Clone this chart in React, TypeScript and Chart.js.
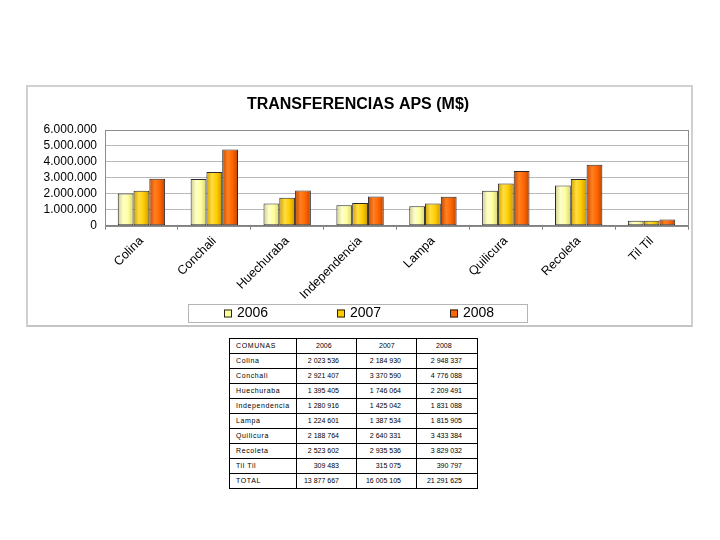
import React, { useEffect, useRef } from "react";
import { Chart, registerables } from "chart.js";

Chart.register(...registerables);

// ---- data ----
const categories = ["Colina", "Conchali", "Huechuraba", "Independencia", "Lampa", "Quilicura", "Recoleta", "Til Til"];
const seriesLabels = ["2006", "2007", "2008"];
const values2006 = [2023536, 2921407, 1395405, 1280916, 1224601, 2188764, 2523602, 309483];
const values2007 = [2184930, 3370590, 1746064, 1425042, 1387534, 2640331, 2935536, 315075];
const values2008 = [2948337, 4776088, 2209491, 1831088, 1815905, 3433384, 3829032, 390797];
const totals = [13877667, 16005105, 21291625];
const tableHeader = "COMUNAS";
const totalLabel = "TOTAL";
const chartTitle = "TRANSFERENCIAS APS (M$)";
const yMin = 0;
const yMax = 6000000;
const yStep = 1000000;

// ---- styles ----
const FONT = "'Liberation Sans', Arial, Helvetica, sans-serif";
const solidColors = ["#ffff99", "#ffcc00", "#ff6600"];
const gradStops = [
  ["#cfcf8a", "#ffffcc", "#ffff9c", "#d4d47a"],
  ["#d49f00", "#ffde40", "#ffcc00", "#c99700"],
  ["#c84800", "#ff8022", "#ff6600", "#c04400"],
];

const fmtDots = (n: number) => String(n).replace(/\B(?=(\d{3})+(?!\d))/g, ".");
const fmtSpaces = (n: number) => String(n).replace(/\B(?=(\d{3})+(?!\d))/g, " ");

const barGradientPlugin = {
  id: "barGradient",
  beforeDatasetsDraw(chart: any) {
    const ctx = chart.ctx;
    const a = chart.chartArea;
    ctx.save();
    ctx.strokeStyle = "#8c8c8c";
    ctx.lineWidth = 1;
    ctx.strokeRect(Math.round(a.left) + 0.5, Math.round(a.top) + 0.5, Math.round(a.right - a.left), Math.round(a.bottom - a.top));
    ctx.restore();
    chart.data.datasets.forEach((_ds: any, i: number) => {
      const meta = chart.getDatasetMeta(i);
      const s = gradStops[i];
      meta.data.forEach((el: any) => {
        const w = el.width;
        const left = el.x - w / 2;
        const g = ctx.createLinearGradient(left, 0, left + w, 0);
        g.addColorStop(0, s[0]);
        g.addColorStop(0.35, s[1]);
        g.addColorStop(0.65, s[2]);
        g.addColorStop(1, s[3]);
        el.options = { ...el.options, backgroundColor: g };
      });
    });
  },
};

const boxLegendPlugin = {
  id: "boxLegend",
  afterDraw(chart: any) {
    const ctx = chart.ctx;
    const boxW = 339;
    const boxH = 18;
    const left = Math.round((chart.width - boxW) / 2) - 2;
    const top = 217;
    ctx.save();
    ctx.strokeStyle = "#b4b4b4";
    ctx.lineWidth = 1;
    ctx.strokeRect(left + 0.5, top + 0.5, boxW, boxH);
    const cy = top + boxH / 2 + 0.5;
    ctx.font = `14px ${FONT}`;
    ctx.textBaseline = "middle";
    ctx.textAlign = "left";
    chart.data.datasets.forEach((ds: any, i: number) => {
      const sx = left + 36 + i * 113;
      ctx.fillStyle = solidColors[i];
      ctx.fillRect(sx, cy - 4, 8, 8);
      ctx.strokeStyle = "#222";
      ctx.strokeRect(sx + 0.5, cy - 3.5, 7, 7);
      ctx.fillStyle = "#000";
      ctx.fillText(ds.label, sx + 13, cy);
    });
    ctx.restore();
  },
};

function BarChart() {
  const ref = useRef<HTMLCanvasElement | null>(null);
  useEffect(() => {
    if (!ref.current) return;
    const series = [values2006, values2007, values2008];
    const chart = new Chart(ref.current, {
      type: "bar",
      data: {
        labels: categories,
        datasets: series.map((vals, i) => ({
          label: seriesLabels[i],
          data: vals,
          backgroundColor: solidColors[i],
          borderColor: "#2a2a2a",
          borderWidth: 1,
          borderSkipped: false,
          categoryPercentage: 0.65,
          barPercentage: 1.0,
        })),
      },
      options: {
        responsive: false,
        animation: false,
        events: [],
        layout: { padding: { left: 0, right: 3, top: 0, bottom: 0 } },
        plugins: {
          legend: { display: false },
          tooltip: { enabled: false },
          title: {
            display: true,
            text: chartTitle,
            color: "#000",
            font: { family: FONT, size: 16, weight: "bold" },
            padding: { top: 8, bottom: 15.8 },
          },
        },
        scales: {
          x: {
            grid: { display: true, drawOnChartArea: false, drawTicks: true, tickLength: 4, color: "#808080" },
            border: { display: true, color: "#808080" },
            ticks: {
              color: "#000",
              font: { family: FONT, size: 12.5 },
              minRotation: 45,
              maxRotation: 45,
              autoSkip: false,
              padding: 4,
            },
            afterFit: (scale: any) => {
              scale.height = 99.3;
            },
          },
          y: {
            min: yMin,
            max: yMax,
            grid: { color: "#b8b8b8", drawTicks: false, tickLength: 0 },
            border: { display: true, color: "#808080" },
            ticks: {
              stepSize: yStep,
              autoSkip: false,
              color: "#000",
              font: { family: FONT, size: 12 },
              padding: 8,
              callback: (v: any) => fmtDots(Number(v)),
            },
            afterFit: (scale: any) => {
              scale.width = 77;
            },
          },
        },
      },
      plugins: [barGradientPlugin, boxLegendPlugin],
    });
    return () => chart.destroy();
  }, []);
  return <canvas ref={ref} width={663} height={238} style={{ display: "block", width: 663, height: 238 }} />;
}

const cell: React.CSSProperties = {
  border: "1px solid #000",
  height: 14,
  padding: 0,
  fontSize: 7,
  lineHeight: "14px",
  whiteSpace: "nowrap",
  overflow: "hidden",
  color: "#000",
};

function DataTable() {
  const rows = categories.map((c, i) => [c, values2006[i], values2007[i], values2008[i]] as [string, number, number, number]);
  rows.push([totalLabel, totals[0], totals[1], totals[2]]);
  const numPad = [17, 15, 15];
  const headPad = [19, 22, 19];
  return (
    <table
      style={{
        position: "absolute",
        left: 229,
        top: 338,
        width: 248,
        borderCollapse: "collapse",
        tableLayout: "fixed",
        fontFamily: FONT,
        WebkitFontSmoothing: "antialiased",
      }}
    >
      <colgroup>
        <col style={{ width: 67 }} />
        <col style={{ width: 60 }} />
        <col style={{ width: 60 }} />
        <col style={{ width: 61 }} />
      </colgroup>
      <tbody>
        <tr>
          <td style={{ ...cell, paddingLeft: 6, letterSpacing: 0.6 }}>{tableHeader}</td>
          {seriesLabels.map((s, j) => (
            <td key={s} style={{ ...cell, paddingLeft: headPad[j] }}>{s}</td>
          ))}
        </tr>
        {rows.map((r, i) => (
          <tr key={i}>
            <td style={{ ...cell, paddingLeft: 6, letterSpacing: 0.6 }}>{r[0]}</td>
            {[r[1], r[2], r[3]].map((v, j) => (
              <td key={j} style={{ ...cell, textAlign: "right", paddingRight: numPad[j] }}>{fmtSpaces(v)}</td>
            ))}
          </tr>
        ))}
      </tbody>
    </table>
  );
}

export default function App() {
  return (
    <div style={{ position: "absolute", left: 0, top: 0, width: 720, height: 540, background: "#fff", fontFamily: FONT }}>
      <div
        style={{
          position: "absolute",
          left: 26,
          top: 85,
          width: 663,
          height: 238,
          border: "2px solid #d0d0d0",
          borderBottom: "2px solid #c4c4c4",
          background: "#fff",
        }}
      >
        <BarChart />
      </div>
      <DataTable />
    </div>
  );
}
